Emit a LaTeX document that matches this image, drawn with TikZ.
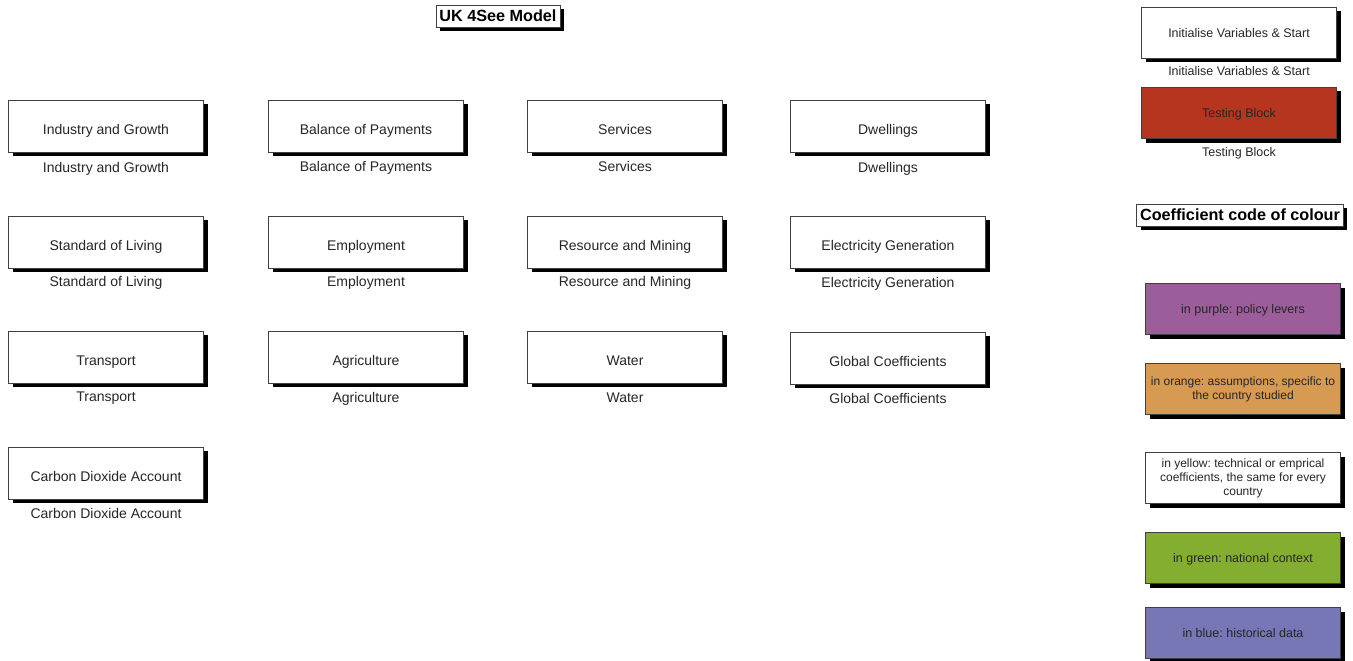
\documentclass[tikz,border=0pt]{standalone}
\usepackage{xcolor}
\usepackage{fontspec}
\setmainfont{Liberation Sans}
\usepackage{tikz}
\usetikzlibrary{shadows}

\frenchspacing

\definecolor{testred}{HTML}{B5351E}
\definecolor{levpurple}{HTML}{9B5E9B}
\definecolor{asmorange}{HTML}{D79A52}
\definecolor{ctxgreen}{HTML}{83AE2F}
\definecolor{histblue}{HTML}{7777B5}

\tikzset{
  block/.style={draw=black!75, line width=0.8pt, fill=white, text=black!85,
    minimum width=195pt, minimum height=52pt, inner sep=2pt,
    text height=17pt, text depth=1pt,
    drop shadow={shadow xshift=4pt, shadow yshift=-4pt, opacity=1, fill=black},
    font=\fontsize{14}{16}\selectfont},
  caption/.style={anchor=base, text=black!85, font=\fontsize{14}{16}\selectfont},
  smallblock/.style={block, minimum height=51pt, text height=10pt, text depth=1pt,
    font=\fontsize{12.5}{14.5}\selectfont},
  smallcaption/.style={caption, font=\fontsize{12.5}{14.5}\selectfont},
  heading/.style={draw=black!75, line width=0.8pt, fill=white, inner xsep=3.5pt,
    minimum height=22pt, text=black,
    drop shadow={shadow xshift=4pt, shadow yshift=-4pt, opacity=1, fill=black},
    font=\bfseries\fontsize{16.2}{18}\selectfont},
  legend/.style={smallblock, align=center},
  legendmulti/.style={block, minimum height=51pt, text height=, text depth=,
    align=center, font=\fontsize{12}{14}\selectfont}
}

\begin{document}
\begin{tikzpicture}[x=1pt, y=-1pt]
    \useasboundingbox (0,0) rectangle (1353,661);

    \node[heading] (title) at (498,16) {UK 4See Model};

    % sectors
    \node[block] (ig) at (106,126) {Industry and Growth};
    \node[caption] (ig-l) at (106,172) {Industry and Growth};
    \node[block] (bop) at (366,126) {Balance of Payments};
    \node[caption] (bop-l) at (366,171) {Balance of Payments};
    \node[block] (serv) at (625,126) {Services};
    \node[caption] (serv-l) at (625,171) {Services};
    \node[block] (dwel) at (888,126) {Dwellings};
    \node[caption] (dwel-l) at (888,172) {Dwellings};

    \node[block] (sol) at (106,242) {Standard of Living};
    \node[caption] (sol-l) at (106,286) {Standard of Living};
    \node[block] (emp) at (366,242) {Employment};
    \node[caption] (emp-l) at (366,286) {Employment};
    \node[block] (rm) at (625,242) {Resource and Mining};
    \node[caption] (rm-l) at (625,286) {Resource and Mining};
    \node[block] (elec) at (888,242) {Electricity Generation};
    \node[caption] (elec-l) at (888,287) {Electricity Generation};

    \node[block] (trans) at (106,357) {Transport};
    \node[caption] (trans-l) at (106,401) {Transport};
    \node[block] (agri) at (366,357) {Agriculture};
    \node[caption] (agri-l) at (366,402) {Agriculture};
    \node[block] (water) at (625,357) {Water};
    \node[caption] (water-l) at (625,402) {Water};
    \node[block] (glob) at (888,358) {Global Coefficients};
    \node[caption] (glob-l) at (888,403) {Global Coefficients};

    \node[block] (co2) at (106,473) {Carbon Dioxide Account};
    \node[caption] (co2-l) at (106,518) {Carbon Dioxide Account};

    % start and testing
    \node[smallblock] (init) at (1239,33) {Initialise Variables \& Start};
    \node[smallcaption] (init-l) at (1239,76) {Initialise Variables \& Start};
    \node[smallblock, fill=testred] (test) at (1239,113) {Testing Block};
    \node[smallcaption] (test-l) at (1239,156) {Testing Block};

    % colour key
    \node[heading] (key) at (1240,215) {Coefficient code of colour};
    \node[legend, fill=levpurple] (purple) at (1243,309) {in purple: policy levers};
    \node[legendmulti, fill=asmorange] (orange) at (1243,389) {in orange: assumptions, specific to\\the country studied};
    \node[legendmulti] (yellow) at (1243,478) {in yellow: technical or emprical\\coefficients, the same for every\\country};
    \node[legend, fill=ctxgreen] (green) at (1243,558) {in green: national context};
    \node[legend, fill=histblue] (blue) at (1243,633) {in blue: historical data};

\end{tikzpicture}
\end{document}
